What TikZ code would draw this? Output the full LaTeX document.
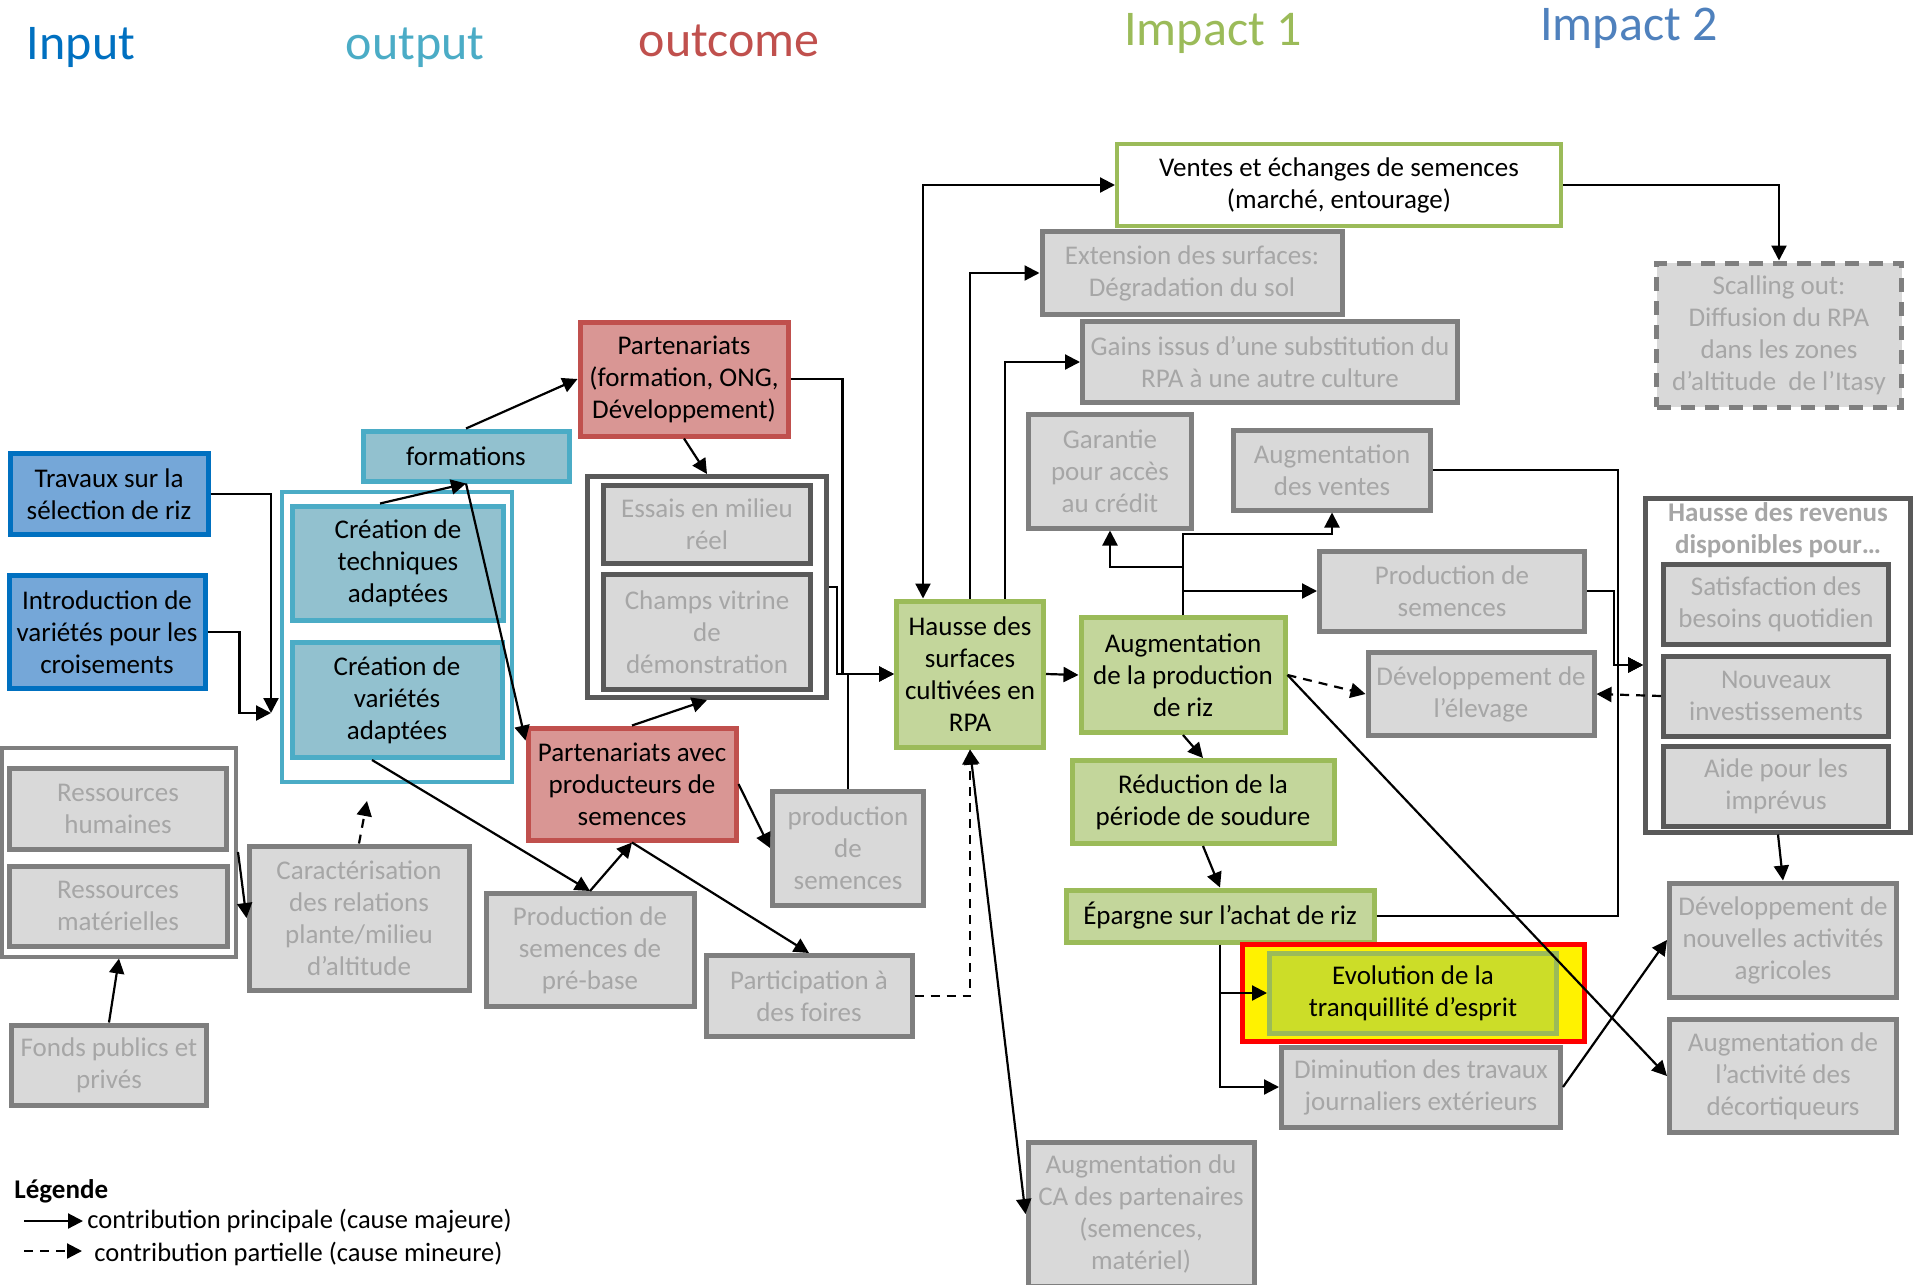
\documentclass[tikz,border=0pt]{standalone}
\usepackage{fontspec}
\setmainfont{Carlito}
\usetikzlibrary{arrows.meta}

\definecolor{inputblue}{HTML}{0070C0}
\definecolor{inputfill}{RGB}{117,167,216}
\definecolor{outputcyan}{HTML}{4BACC6}
\definecolor{outputfill}{RGB}{146,193,207}
\definecolor{outcomered}{HTML}{C0504D}
\definecolor{outcomefill}{RGB}{217,150,148}
\definecolor{impactgreen}{HTML}{9BBB59}
\definecolor{impactfill}{HTML}{C3D69B}
\definecolor{impacttwo}{HTML}{4F81BD}
\definecolor{greyline}{HTML}{7F7F7F}
\definecolor{darkline}{HTML}{595959}
\definecolor{greyfill}{HTML}{D9D9D9}
\definecolor{greytext}{HTML}{A6A6A6}
\definecolor{calmfill}{RGB}{204,221,40}

\def\boxfont{\fontsize{27}{32}\selectfont}

\begin{document}
\begin{tikzpicture}[x=1pt,y=-1pt,>={Triangle[length=15pt,width=15pt]},line width=2.2pt]
    \tikzstyle{box}=[draw,line width=5pt,align=center,inner sep=2pt,font=\boxfont]
    \tikzstyle{input box}=[box,draw=inputblue,fill=inputfill]
    \tikzstyle{output box}=[box,draw=outputcyan,fill=outputfill]
    \tikzstyle{outcome box}=[box,draw=outcomered,fill=outcomefill]
    \tikzstyle{impact box}=[box,draw=impactgreen,fill=impactfill]
    \tikzstyle{grey box}=[box,draw=greyline,fill=greyfill,text=greytext]
    \tikzstyle{dark box}=[grey box,draw=darkline]
    \tikzstyle{group frame}=[draw,line width=4pt,fill=white,inner sep=0pt]
    \tikzstyle{head label}=[font=\fontsize{50}{58}\selectfont]
    \tikzstyle{weak}=[->,dash pattern=on 9pt off 7pt]

    \useasboundingbox (0,0) rectangle (1915,1285);

    % Column titles
    \node[head label,text=inputblue] (t-in) at (81,47) {Input};
    \node[head label,text=outputcyan] (t-out) at (415,48) {output};
    \node[head label,text=outcomered] (t-oc) at (729,41) {outcome};
    \node[head label,text=impactgreen] (t-i1) at (1213,33) {Impact 1};
    \node[head label,text=impacttwo] (t-i2) at (1629,28) {Impact 2};

    % Draw the input nodes
    \node[input box,minimum width=198,minimum height=81] (trav) at (109,494) {Travaux sur la\\sélection de riz};
    \node[input box,minimum width=196,minimum height=113] (intro) at (107,632) {Introduction de\\variétés pour les\\croisements};
    \node[group frame,draw=greyline,minimum width=234,minimum height=209] (res) at (119,852) {};
    \node[grey box,minimum width=217,minimum height=81] (rh) at (118,809) {Ressources\\humaines};
    \node[grey box,minimum width=218,minimum height=80] (rm) at (118,906) {Ressources\\matérielles};
    \node[grey box,minimum width=195,minimum height=80] (fonds) at (109,1065) {Fonds publics et\\privés};

    % Draw the output nodes
    \node[group frame,draw=outputcyan,minimum width=230,minimum height=290] (outp) at (397,637) {};
    \node[output box,minimum width=206,minimum height=50] (form) at (466,456) {formations};
    \node[output box,minimum width=211,minimum height=114] (tech) at (398,563) {Création de\\techniques\\adaptées};
    \node[output box,minimum width=210,minimum height=115] (var) at (397,700) {Création de\\variétés\\adaptées};
    \node[grey box,minimum width=220,minimum height=144] (carac) at (359,918) {Caractérisation\\des relations\\plante/milieu\\d’altitude};

    % Draw the outcome nodes
    \node[outcome box,minimum width=208,minimum height=114] (part) at (684,379) {Partenariats\\(formation, ONG,\\Développement)};
    \node[group frame,draw=darkline,line width=5pt,minimum width=239,minimum height=221] (essbox) at (707,587) {};
    \node[dark box,minimum width=207,minimum height=78] (ess) at (707,524) {Essais en milieu\\réel};
    \node[dark box,minimum width=207,minimum height=115] (champ) at (707,632) {Champs vitrine\\de\\démonstration};
    \node[outcome box,minimum width=208,minimum height=112] (pprod) at (632,784) {Partenariats avec\\producteurs de\\semences};
    \node[grey box,minimum width=208,minimum height=113] (prebase) at (590,950) {Production de\\semences de\\pré-base};
    \node[grey box,minimum width=151,minimum height=114] (prodsem) at (848,848) {production\\de\\semences};
    \node[grey box,minimum width=206,minimum height=81] (foires) at (809,996) {Participation à\\des foires};

    % Draw the first impact nodes
    \node[impact box,minimum width=147,minimum height=146] (hausse) at (970,674) {Hausse des\\surfaces\\cultivées en\\RPA};
    \node[grey box,minimum width=226,minimum height=144] (ca) at (1141,1214) {Augmentation du\\CA des partenaires\\(semences,\\matériel)};
    \node[box,draw=impactgreen,fill=white,line width=4pt,minimum width=444,minimum height=82] (ventes) at (1339,185) {Ventes et échanges de semences\\(marché, entourage)};
    \node[grey box,minimum width=300,minimum height=83] (ext) at (1192,273) {Extension des surfaces:\\Dégradation du sol};
    \node[grey box,minimum width=375,minimum height=81] (gains) at (1270,362) {Gains issus d’une substitution du\\RPA à une autre culture};
    \node[grey box,minimum width=163,minimum height=114] (gar) at (1110,471) {Garantie\\pour accès\\au crédit};
    \node[grey box,minimum width=197,minimum height=80] (augv) at (1332,470) {Augmentation\\des ventes};
    \node[impact box,minimum width=204,minimum height=115] (augprod) at (1183,675) {Augmentation\\de la production\\de riz};
    \node[grey box,minimum width=265,minimum height=80] (prodsem2) at (1452,591) {Production de\\semences};
    \node[grey box,minimum width=226,minimum height=83] (elev) at (1481,694) {Développement de\\l’élevage};
    \node[impact box,minimum width=262,minimum height=83] (reduc) at (1203,802) {Réduction de la\\période de soudure};
    \node[impact box,minimum width=308,minimum height=52] (epargne) at (1220,916) {Épargne sur l’achat de riz};
    \node[box,draw=red,fill=yellow,minimum width=342,minimum height=97] (evolbg) at (1413,993) {};
    \node[box,draw=impactgreen,fill=calmfill,minimum width=287,minimum height=80] (evol) at (1413,993) {Evolution de la\\tranquillité d’esprit};
    \node[grey box,minimum width=279,minimum height=80] (dimin) at (1421,1087) {Diminution des travaux\\journaliers extérieurs};

    % Draw the second impact nodes
    \node[grey box,dash pattern=on 14pt off 10pt,minimum width=245,minimum height=144] (scal) at (1779,335) {Scalling out:\\Diffusion du RPA\\dans les zones\\d’altitude\ \ de l’Itasy};
    \node[group frame,draw=darkline,line width=5pt,minimum width=265,minimum height=334] (rev) at (1778,665) {};
    \node[align=center,text=greytext,font=\boxfont\bfseries] (revtitle) at (1778,530) {Hausse des revenus\\disponibles pour…};
    \foreach \name / \y / \txt in {sat/604/{Satisfaction des\\besoins quotidien}, nouv/696/{Nouveaux\\investissements}, aide/786/{Aide pour les\\imprévus}}
        \node[dark box,minimum width=225,minimum height=80] (\name) at (1776,\y) {\txt};
    \node[grey box,minimum width=227,minimum height=114] (nouvact) at (1783,940) {Développement de\\nouvelles activités\\agricoles};
    \node[grey box,minimum width=227,minimum height=113] (decort) at (1783,1076) {Augmentation de\\l’activité des\\décortiqueurs};

    % Connect the inputs to the outputs
    \coordinate (cin) at (271,713);
    \coordinate (cout) at (367,801);
    \draw[->] (trav.east) -| (cin);
    \draw[->] (intro.east) -- ++(32,0) |- (cin);
    \draw[->] (res.east) -- (carac.west);
    \draw[->] (fonds.north) -- (res.south);
    \draw[weak] (carac.north) -- (cout);

    % Connect the outputs to the outcomes
    \draw[->] ([xshift=-18pt]tech.north) -- (form.south);
    \draw[->] (form.north) -- (part.west);
    \draw[->] (form.south) -- ([yshift=-15pt]pprod.north west);
    \draw[->] ([xshift=-25pt]var.south) -- (prebase.north);
    \draw[->] (prebase.north) -- (pprod.south);
    \draw[->] (pprod.north) -- (essbox.south);
    \draw[->] (pprod.south) -- (foires.north);
    \draw[->] (pprod.east) -- (prodsem.west);
    \draw[->] (part.south) -- (essbox.north);

    % Connect the outcomes to the first impacts
    \draw[->] (part.east) -- ++(52,0) |- (hausse.west);
    \draw[->] (essbox.east) -- ++(8,0) |- (hausse.west);
    \draw (prodsem.north) -- (prodsem.north |- hausse.west);
    \draw[weak] (foires.east) -| (hausse.south);
    \draw[<->] (hausse.south) -- (ca.west);
    \draw[<->] ([xshift=-47pt]hausse.north) |- (ventes.west);
    \draw[->] (hausse.north) |- (ext.west);
    \draw[->] ([xshift=35pt]hausse.north) |- (gains.west);
    \draw[->] (hausse.east) -- (augprod.west);

    % Connect the rice production to its effects
    \draw[->] (augprod.north) -- ++(0,-48) -| (gar.south);
    \draw[->] (augprod.north) -- ++(0,-81) -| (augv.south);
    \draw[->] (augprod.north) |- (prodsem2.west);
    \draw[weak] (augprod.east) -- (elev.west);
    \draw[->] (augprod.south) -- (reduc.north);
    \draw[->] (augprod.east) -- (decort.west);
    \draw[->] (reduc.south) -- (epargne.north);
    \draw[->] (epargne.south) |- (evol.west);
    \draw[->] (epargne.south) |- (dimin.west);

    % Connect the first impacts to the second impacts
    \coordinate (jr) at (1618,665);
    \draw[->] (augv.east) -| (jr) -- (rev.west);
    \draw[->] (epargne.east) -| (jr) -- (rev.west);
    \draw[->] (prodsem2.east) -- ++(27,0) |- (rev.west);
    \draw[weak] (nouv.west) -- (elev.east);
    \draw[->] (rev.south) -- (nouvact.north);
    \draw[->] (dimin.east) -- (nouvact.west);
    \draw[->] (ventes.east) -| (scal.north);

    % Legend
    \node[anchor=west,font=\boxfont\bfseries] (leg) at (10,1191) {Légende};
    \node[anchor=west,font=\fontsize{26.5}{32}\selectfont] (leg-main) at (83,1221) {contribution principale (cause majeure)};
    \node[anchor=west,font=\fontsize{26.5}{32}\selectfont] (leg-part) at (90,1254) {contribution partielle (cause mineure)};
    \coordinate (leg-a) at (24,1221);
    \coordinate (leg-b) at (24,1251);
    \draw[->] (leg-a) -- (leg-main.west);
    \draw[weak] (leg-b) -- ([xshift=-8pt,yshift=3pt]leg-part.west);
\end{tikzpicture}
\end{document}
